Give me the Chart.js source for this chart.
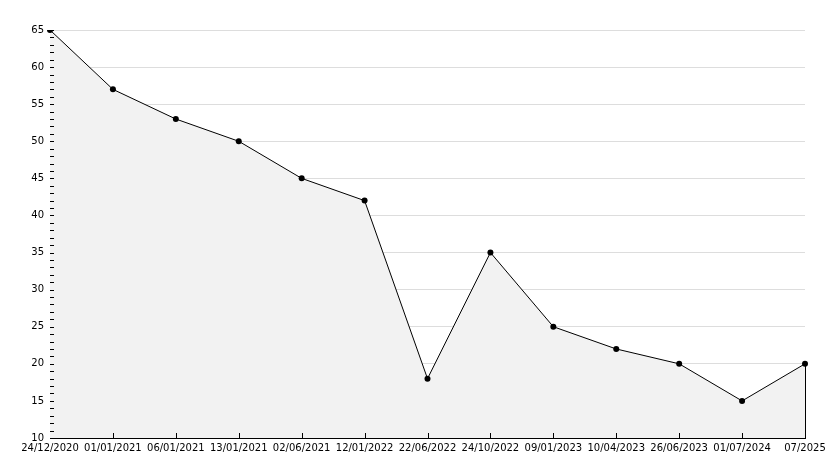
<!DOCTYPE html>
<html>
<head>
<meta charset="utf-8">
<script src="https://cdn.jsdelivr.net/npm/chart.js@4"></script>
<style>
  html, body { margin: 0; padding: 0; background: #ffffff; }
  #wrap { width: 834px; height: 468px; }
</style>
</head>
<body>
<div id="wrap"><canvas id="chart" width="834" height="468"></canvas></div>
<script>
// chart data
const dates = ['24/12/2020', '01/01/2021', '06/01/2021', '13/01/2021', '02/06/2021', '12/01/2022',
  '22/06/2022', '24/10/2022', '09/01/2023', '10/04/2023', '26/06/2023', '01/07/2024', '07/2025'];
const values = [65, 57, 53, 50, 45, 42, 18, 35, 25, 22, 20, 15, 20];
const yMin = 10;
const yMax = 65;
const yStep = 5;

// small inside ticks on both axes + closing edge of the filled area
const axisTicks = {
  id: 'axisTicks',
  afterDatasetsDraw(chart) {
    const ctx = chart.ctx;
    const x = chart.scales.x;
    const y = chart.scales.y;
    ctx.save();
    ctx.strokeStyle = '#000000';
    ctx.lineWidth = 1;
    ctx.beginPath();
    for (let v = yMin; v <= yMax; v++) {
      const py = Math.round(y.getPixelForValue(v)) + 0.5;
      ctx.moveTo(x.left, py);
      ctx.lineTo(x.left + 4, py);
    }
    for (let i = 1; i < dates.length; i++) {
      const px = Math.round(x.getPixelForTick(i)) + 0.5;
      ctx.moveTo(px, y.bottom);
      ctx.lineTo(px, y.bottom - 5);
    }
    const pts = chart.getDatasetMeta(0).data;
    const last = pts[pts.length - 1];
    const lx = Math.round(last.x) + 0.5;
    ctx.moveTo(lx, last.y);
    ctx.lineTo(lx, y.bottom);
    ctx.stroke();
    ctx.restore();
  }
};

const ctx = document.getElementById('chart').getContext('2d');
new Chart(ctx, {
  type: 'line',
  data: {
    labels: dates,
    datasets: [{
      data: values,
      borderColor: '#000000',
      borderWidth: 1,
      backgroundColor: '#f2f2f2',
      fill: 'start',
      tension: 0,
      pointRadius: 3,
      pointBackgroundColor: '#000000',
      pointBorderColor: '#000000',
      pointBorderWidth: 0
    }]
  },
  options: {
    responsive: false,
    animation: false,
    layout: {
      padding: { top: 30, right: 29, left: 0, bottom: 0 }
    },
    plugins: {
      legend: { display: false },
      tooltip: { enabled: false }
    },
    scales: {
      x: {
        type: 'category',
        offset: false,
        afterFit: function(scale) { scale.height = 30; },
        grid: { display: false, drawTicks: false },
        border: { display: true, color: '#000000', width: 1 },
        ticks: {
          autoSkip: false,
          maxRotation: 0,
          minRotation: 0,
          padding: 4,
          color: '#000000',
          font: { family: 'DejaVu Sans', size: 10 }
        }
      },
      y: {
        min: yMin,
        max: yMax,
        afterFit: function(scale) { scale.width = 50; },
        grid: { color: '#dddddd', drawTicks: false },
        border: { display: true, color: '#000000', width: 1 },
        ticks: {
          stepSize: yStep,
          padding: 6,
          color: '#000000',
          font: { family: 'DejaVu Sans', size: 10 }
        }
      }
    }
  },
  plugins: [axisTicks]
});
</script>
</body>
</html>
